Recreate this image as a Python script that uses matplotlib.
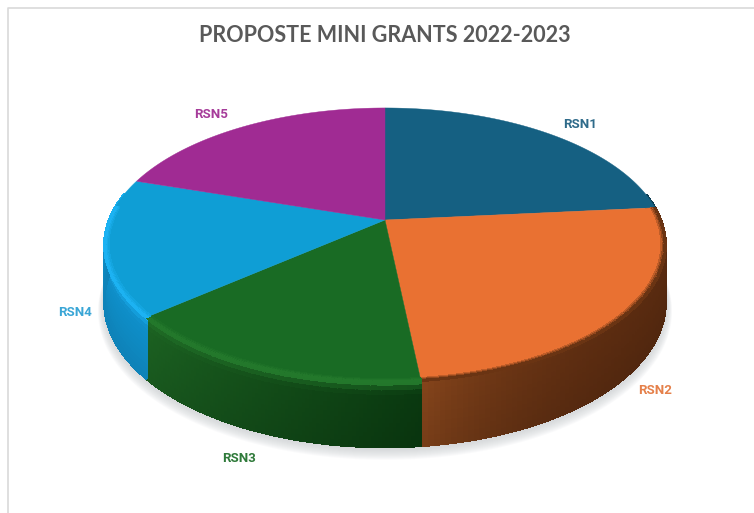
import numpy as np
import matplotlib
matplotlib.use("Agg")
import matplotlib.pyplot as plt
from matplotlib.collections import PolyCollection
from matplotlib.colors import to_rgb

# values (share of the pie, clockwise from the top)
categories = ["RSN1", "RSN2", "RSN3", "RSN4", "RSN5"]
values = [23.5, 24.8, 15.5, 16.2, 20.0]
top_colors = ["#156082", "#E97132", "#196B24", "#0F9ED5", "#A02B93"]
side_start = ["#0d3d53", "#5a2b10", "#0a3a10", "#0f92ce", "#7a1f70"]
side_end = ["#0d3d53", "#84441b", "#1c6322", "#0f92ce", "#7a1f70"]
rim_colors = ["#156082", "#6a3413", "#23782b", "#1cb2f2", "#A02B93"]
label_colors = ["#2f6b8a", "#E5804A", "#2f7a3a", "#3aa6d6", "#a63c9a"]
label_pos = [(580, 124), (655, 391), (239, 459), (75, 313), (211, 115)]
title = "PROPOSTE MINI GRANTS 2022-2023"

# perspective of the pie, in pixels
CX, CY = 385, 220
A, B, P = 132.5, 276.0, 0.1826


def project(theta, r=1.0, drop=0.0):
    # theta in radians clockwise from the top
    u = r * np.sin(theta)
    v = r * np.cos(theta)
    w = 1 + P * v
    x = CX + B * u / w
    y = CY - A * v / w
    return x, y + drop * (55 - 10 * v)


def mix(c1, c2, t):
    return tuple(np.array(to_rgb(c1)) * (1 - t) + np.array(to_rgb(c2)) * t)


fig = plt.figure(figsize=(7.54, 5.13), dpi=100)
ax = fig.add_axes([0, 0, 1, 1])
ax.set_xlim(0, 754)
ax.set_ylim(513, 0)
ax.axis("off")

# chart frame
ax.plot([8, 8, 754], [513, 8, 8], color="#d9d9d9", lw=1.2)

# soft shadow under the pie
t = np.linspace(0, 2 * np.pi, 300)
for i in range(12):
    x, y = project(t, 1.0 + 0.0018 * (12 - i), 1.0)
    ax.fill(x, y + 1 + 0.6 * (12 - i), color="#c4c8cc", alpha=0.08, lw=0)

edges = np.cumsum([0] + values) / sum(values) * 2 * np.pi

# side wall
for k in range(len(values)):
    th = np.linspace(edges[k], edges[k + 1], 90)
    polys, cols = [], []
    for j in range(len(th) - 1):
        if np.cos((th[j] + th[j + 1]) / 2) > 0.2:
            continue
        f = j / (len(th) - 2)
        if k == 1:
            f = f ** 5
        col = mix(side_start[k], side_end[k], f)
        rows = np.linspace(0, 1, 15)
        for a, b in zip(rows[:-1], rows[1:]):
            x1, y1 = project(th[j], 1.0, a)
            x2, y2 = project(th[j + 1], 1.0, a)
            x3, y3 = project(th[j + 1], 1.0, b)
            x4, y4 = project(th[j], 1.0, b)
            polys.append([(x1, y1), (x2, y2), (x3, y3), (x4, y4)])
            # glow of the rim colour just under the top, darker to the bottom
            lift = max(0, 1 - a / 0.2) ** 2 if k in (2, 3) else 0
            c = mix(col, rim_colors[k], lift)
            cols.append(mix(c, "#000000", 0.10 * b))
    ax.add_collection(PolyCollection(polys, facecolors=cols, edgecolors=cols,
                                     linewidths=1.0, antialiaseds=False))

# top face
for k in range(len(values)):
    th = np.linspace(edges[k], edges[k + 1], 120)
    x, y = project(th)
    ax.fill(np.r_[CX, x], np.r_[CY, y], color=top_colors[k], lw=0.3)

    # bevel along the front rim
    polys, cols = [], []
    radii = np.linspace(0.985, 1.0, 4)
    for j in range(len(th) - 1):
        mid = (th[j] + th[j + 1]) / 2
        if np.cos(mid) > 0.1:
            continue
        for n in range(len(radii) - 1):
            x1, y1 = project(th[j], radii[n])
            x2, y2 = project(th[j + 1], radii[n])
            x3, y3 = project(th[j + 1], radii[n + 1])
            x4, y4 = project(th[j], radii[n + 1])
            polys.append([(x1, y1), (x2, y2), (x3, y3), (x4, y4)])
            cols.append(mix(top_colors[k], rim_colors[k], (n + 1) / (len(radii) - 1)))
    if polys:
        ax.add_collection(PolyCollection(polys, facecolors=cols, edgecolors=cols,
                                         linewidths=0.8, antialiaseds=False))

for name, pos, col in zip(categories, label_pos, label_colors):
    ax.text(pos[0], pos[1], name, color=col, ha="center", va="center",
            fontsize=9.5, fontweight="bold", family=["Liberation Sans Narrow", "Roboto"])

ax.text(385, 36, title, color="#595959", ha="center", va="center",
        fontsize=15.5, fontweight="bold", family=["Lato"])

fig.savefig("out.png", dpi=100)
